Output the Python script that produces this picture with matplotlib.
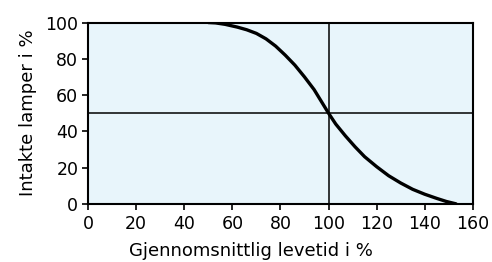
import matplotlib.pyplot as plt

# levetidskurve for lamper, lest av figuren
levetid = [50, 53, 57, 62, 66, 70, 74, 78, 82, 86, 90, 94, 97, 100,
           103, 107, 111, 115, 120, 125, 130, 135, 140, 145, 149, 153]
intakte = [100, 99.8, 99, 97.5, 96, 94, 91, 87, 82, 76.5, 70, 63, 56.5, 50,
           44, 37.5, 31.5, 26, 20.5, 15.5, 11.5, 8, 5.3, 3, 1.3, 0]

x_ticks = [0, 20, 40, 60, 80, 100, 120, 140, 160]
y_ticks = [0, 20, 40, 60, 80, 100]

plt.rcParams['font.family'] = ['DejaVu Sans']

fig = plt.figure(figsize=(4.92, 2.62), dpi=100)
ax = fig.add_axes([0.179, 0.222, 0.782, 0.692])
ax.set_facecolor('#e8f5fb')

ax.axhline(50, color='black', lw=1.1)
ax.axvline(100, color='black', lw=1.1)
ax.plot(levetid, intakte, color='black', lw=2.4, solid_capstyle='round')

ax.set_xlim(0, 160)
ax.set_ylim(0, 100)
ax.set_xticks(x_ticks)
ax.set_yticks(y_ticks)
ax.tick_params(direction='out', length=4, width=1.2, labelsize=12.5)
ax.tick_params(axis='x', pad=4)
ax.tick_params(axis='y', pad=3)
for s in ax.spines.values():
    s.set_linewidth(1.5)

ax.set_ylabel('Intakte lamper i %', fontsize=13, labelpad=6)
fig.text(251 / 492, 1 - 251 / 262, 'Gjennomsnittlig levetid i %',
         fontsize=13, ha='center', va='center')

fig.savefig('out.png', dpi=100)
